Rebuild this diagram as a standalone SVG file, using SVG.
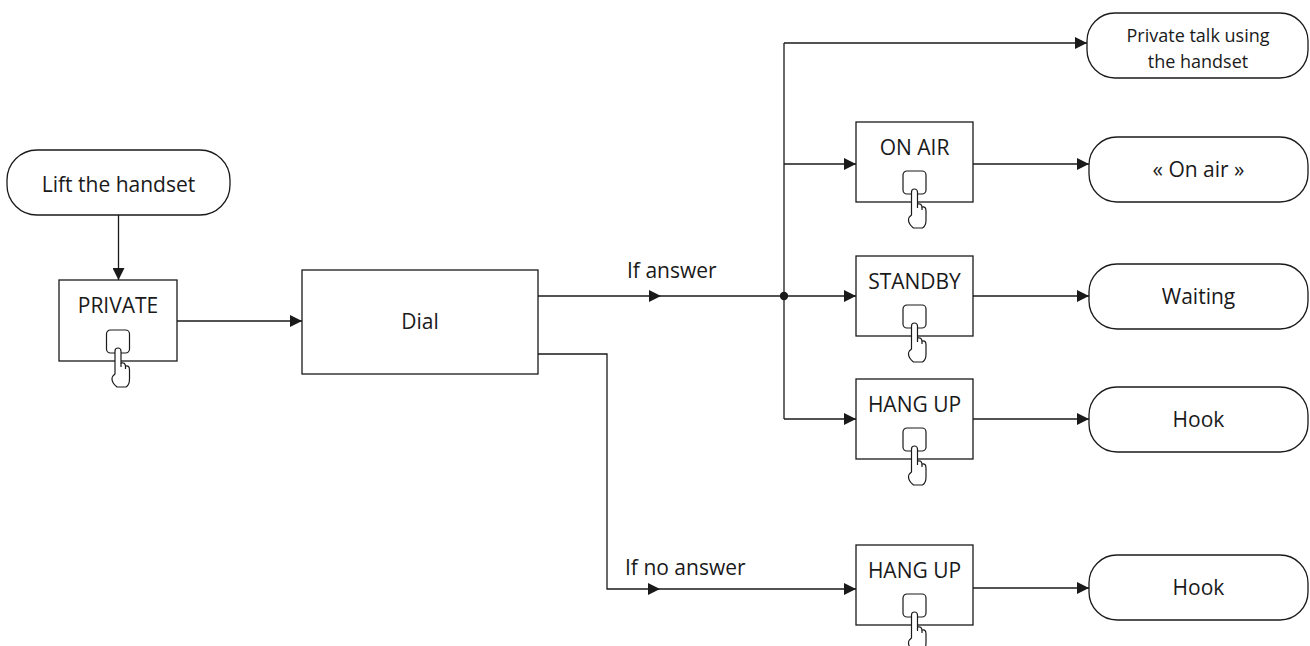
<svg xmlns="http://www.w3.org/2000/svg" xmlns:xlink="http://www.w3.org/1999/xlink" width="1310" height="646" viewBox="0 0 1310 646">
<defs>
<style>
.box{fill:#fff;stroke:#1a1a1a;stroke-width:1.3}
.ln{fill:none;stroke:#1a1a1a;stroke-width:1.3}
.t{font-family:"Open Sans","Liberation Sans",sans-serif;font-size:21px;fill:#1a1a1a;text-anchor:middle}
.ts{font-size:18px}
.l{text-anchor:start}
.hand{fill:#fff;stroke:#1a1a1a;stroke-width:1.2;stroke-linejoin:round}
</style>
<marker id="arr" markerWidth="13" markerHeight="12" refX="12" refY="6" orient="auto" markerUnits="userSpaceOnUse">
<path d="M0,0 L12,6 L0,12 Z" fill="#1a1a1a"/>
</marker>
<path id="mid" d="M-12,-6 L0,0 L-12,6 Z" fill="#1a1a1a"/>
<g id="btn">
<rect class="hand" x="-11.5" y="0" width="23" height="23" rx="4"/>
<path class="hand" d="M-3,44 L-3,21 A3,3 0 0 1 3,21 L3,33 Q7,32 7.5,36 Q11.5,35 11.5,40 L11.5,49 Q11.5,55 8,57 L-1,57 Q-6,53 -6,49 Q-6,46 -3,44 Z"/>
<path class="hand" d="M3,33 L3,37 M7.5,36 L7.5,39"/>
</g>
</defs>
<rect width="1310" height="646" fill="#fff"/>

<g id="connectors">
<path class="ln" d="M118.5,215 V280" marker-end="url(#arr)"/>
<path class="ln" d="M177,321 H302" marker-end="url(#arr)"/>
<path class="ln" d="M538,296 H784"/>
<use xlink:href="#mid" x="661" y="296"/>
<path class="ln" d="M538,354 H607 V589 H856" marker-end="url(#arr)"/>
<use xlink:href="#mid" x="660" y="589"/>
<path class="ln" d="M784,43 V419"/>
<path class="ln" d="M784,43 H1087" marker-end="url(#arr)"/>
<path class="ln" d="M784,164 H856" marker-end="url(#arr)"/>
<path class="ln" d="M784,296 H856" marker-end="url(#arr)"/>
<path class="ln" d="M784,419 H856" marker-end="url(#arr)"/>
<path class="ln" d="M973,164 H1089" marker-end="url(#arr)"/>
<path class="ln" d="M973,296 H1089" marker-end="url(#arr)"/>
<path class="ln" d="M973,419 H1089" marker-end="url(#arr)"/>
<path class="ln" d="M973,588 H1089" marker-end="url(#arr)"/>
<circle cx="784" cy="296" r="4.2" fill="#1a1a1a"/>
<text class="t l" x="627" y="278">If answer</text>
<text class="t l" x="625" y="575">If no answer</text>
</g>

<g id="lift">
<rect class="box" x="7" y="150" width="223" height="65" rx="30"/>
<text class="t" x="118.5" y="192">Lift the handset</text>
</g>
<g id="private">
<rect class="box" x="59" y="280" width="118" height="81"/>
<text class="t" x="118" y="313">PRIVATE</text>
<use xlink:href="#btn" x="118" y="330"/>
</g>
<g id="dial">
<rect class="box" x="302" y="270" width="236" height="104"/>
<text class="t" x="420" y="329">Dial</text>
</g>

<g id="private-talk">
<rect class="box" x="1087" y="13" width="221" height="65" rx="28"/>
<text class="t ts" x="1198" y="42">Private talk using</text>
<text class="t ts" x="1198" y="68">the handset</text>
</g>

<g id="on-air-btn">
<rect class="box" x="856" y="122" width="117" height="80"/>
<text class="t" x="914.5" y="155">ON AIR</text>
<use xlink:href="#btn" x="914.5" y="171"/>
</g>
<g id="on-air">
<rect class="box" x="1089" y="137" width="219" height="65" rx="28"/>
<text class="t" x="1198.5" y="177">« On air »</text>
</g>

<g id="standby-btn">
<rect class="box" x="856" y="256" width="117" height="80"/>
<text class="t" x="914.5" y="289">STANDBY</text>
<use xlink:href="#btn" x="914.5" y="305"/>
</g>
<g id="waiting">
<rect class="box" x="1089" y="264" width="219" height="65" rx="28"/>
<text class="t" x="1198.5" y="304">Waiting</text>
</g>

<g id="hangup-btn-1">
<rect class="box" x="856" y="379" width="117" height="80"/>
<text class="t" x="914.5" y="412">HANG UP</text>
<use xlink:href="#btn" x="914.5" y="428"/>
</g>
<g id="hook-1">
<rect class="box" x="1089" y="387" width="219" height="65" rx="28"/>
<text class="t" x="1198.5" y="427">Hook</text>
</g>

<g id="hangup-btn-2">
<rect class="box" x="856" y="545" width="117" height="80"/>
<text class="t" x="914.5" y="578">HANG UP</text>
<use xlink:href="#btn" x="914.5" y="594"/>
</g>
<g id="hook-2">
<rect class="box" x="1089" y="555" width="219" height="65" rx="28"/>
<text class="t" x="1198.5" y="595">Hook</text>
</g>
</svg>
